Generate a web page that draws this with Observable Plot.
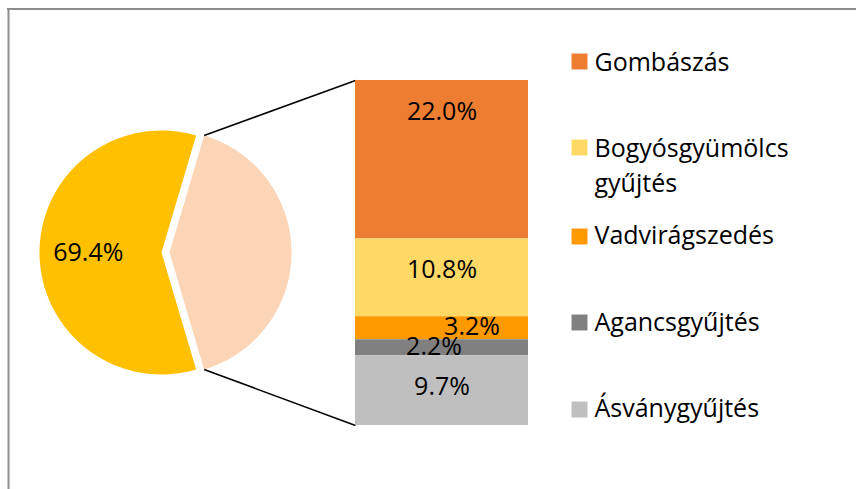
<!DOCTYPE html>
<html>
<head>
<meta charset="utf-8">
<script src="https://cdn.jsdelivr.net/npm/d3@7"></script>
<script src="https://cdn.jsdelivr.net/npm/@observablehq/plot@0.6"></script>
<style>
  html, body { margin: 0; padding: 0; background: #fff; }
  #chart { position: relative; width: 856px; height: 489px; overflow: hidden; }
  #chart svg { position: absolute; left: 0; top: 0; background: transparent; }
</style>
</head>
<body>
<div id="chart"></div>
<script>
// ---- data ----
const mainName = "Egyéb";
const mainValue = 69.4;
const mainLabel = "69.4%";
const categories = ["Gombászás", "Bogyósgyümölcs\ngyűjtés", "Vadvirágszedés", "Agancsgyűjtés", "Ásványgyűjtés"];
const values = [22.0, 10.8, 3.2, 2.2, 9.7];
const valueLabels = ["22.0%", "10.8%", "3.2%", "2.2%", "9.7%"];
const colors = ["#ED7D31", "#FFD966", "#FF9900", "#808080", "#BFBFBF"];
const pieColors = ["#FFC000", "#FBD5B6"];

// ---- layout (pixels) ----
const W = 856, H = 489;
const FONT = "Open Sans";
const FS = 25;
const pie = {cx: 161, cy: 252, r: 122, explode: 8};
const bar = {left: 355, right: 528, top: 80, bottom: 425};
const legend = {squareX: 579, textX: 594, squareY: [61, 147, 236, 322, 409], textY: [59, 163, 232, 319, 405]};
const labelOffsets = [[0, -48], [0, -8], [30, -1], [-8, -1], [0, -4]];

const otherValue = d3.sum(values);
const total = mainValue + otherValue;
const half = Math.PI * otherValue / total; // half-angle of exploded slice

function arcPoints(cx, cy, r, a0, a1, name) {
  const pts = [{x: cx, y: cy, slice: name}];
  const n = 120;
  for (let i = 0; i <= n; i++) {
    const a = a0 + (a1 - a0) * i / n;
    pts.push({x: cx + r * Math.cos(a), y: cy + r * Math.sin(a), slice: name});
  }
  return pts;
}
const mainPts = arcPoints(pie.cx, pie.cy, pie.r, half, 2 * Math.PI - half, mainName);
const ocx = pie.cx + pie.explode;
const otherPts = arcPoints(ocx, pie.cy, pie.r, -half, half, "other");
const connectors = [
  {x1: ocx + pie.r * Math.cos(-half), y1: pie.cy + pie.r * Math.sin(-half), x2: bar.left, y2: bar.top},
  {x1: ocx + pie.r * Math.cos(half), y1: pie.cy + pie.r * Math.sin(half), x2: bar.left, y2: bar.bottom}
];
const mainLabelPos = [{x: pie.cx - pie.r * 0.6, y: pie.cy, text: mainLabel}];

const legendRows = categories.map((c, i) => ({
  name: c, color: colors[i], sy: legend.squareY[i], ty: legend.textY[i]
}));

const layout = Plot.plot({
  width: W, height: H, margin: 0,
  x: {domain: [0, W], range: [0, W], axis: null},
  y: {domain: [0, H], range: [0, H], axis: null},
  marks: [
    Plot.ruleY([8.5], {x1: 7, x2: W, stroke: "#8c8c8c", strokeWidth: 2}),
    Plot.ruleX([8], {y1: 8, y2: H, stroke: "#8c8c8c", strokeWidth: 2}),
    Plot.line(mainPts, {x: "x", y: "y", fill: pieColors[0], stroke: "none", curve: "linear-closed"}),
    Plot.line(otherPts, {x: "x", y: "y", fill: pieColors[1], stroke: "none", curve: "linear-closed"}),
    Plot.link(connectors, {x1: "x1", y1: "y1", x2: "x2", y2: "y2", stroke: "#000", strokeWidth: 1.5}),
    Plot.text(mainLabelPos, {x: "x", y: "y", text: "text", fontSize: FS, fontFamily: FONT, fill: "#000"}),
    Plot.dot(legendRows, {x: legend.squareX, y: "sy", symbol: "square", r: 9, fill: "color", stroke: "none"}),
    Plot.text(legendRows, {x: legend.textX, y: "ty", text: "name", textAnchor: "start", fontSize: FS, fontFamily: FONT, lineHeight: 1.4, fill: "#000"})
  ]
});

// stacked bar in data units
const rows = categories.map((c, i) => ({name: c, value: values[i], color: colors[i], label: valueLabels[i]}));
let acc = otherValue;
rows.forEach(r => { r.y2 = acc; r.y1 = acc - r.value; acc = r.y1; });

const barPlot = Plot.plot({
  width: W, height: H,
  marginLeft: bar.left, marginRight: W - bar.right, marginTop: bar.top, marginBottom: H - bar.bottom,
  x: {domain: ["bar"], padding: 0, axis: null},
  y: {domain: [0, otherValue], axis: null},
  marks: [
    Plot.barY(rows, {x: () => "bar", y1: "y1", y2: "y2", fill: "color", inset: 0}),
    ...rows.map((r, i) => Plot.text([r], {
      x: () => "bar", y: d => (d.y1 + d.y2) / 2, text: "label",
      dx: labelOffsets[i][0], dy: labelOffsets[i][1],
      fontSize: FS, fontFamily: FONT, fill: "#000"
    }))
  ]
});

const root = document.getElementById("chart");
root.appendChild(layout);
root.appendChild(barPlot);
</script>
</body>
</html>
